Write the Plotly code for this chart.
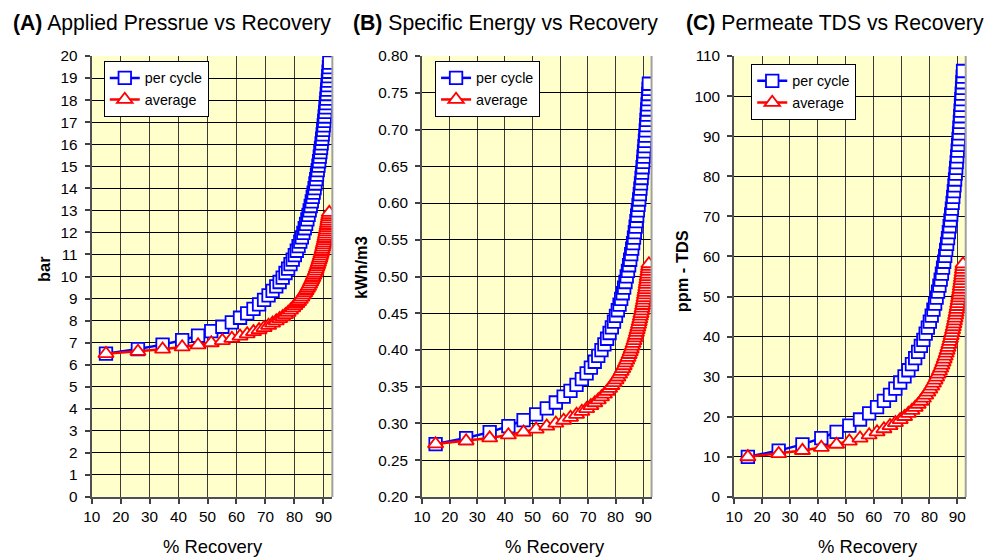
import plotly.graph_objects as go

FONT = "Arial, Liberation Sans, sans-serif"

recovery = [14.93, 25.97, 34.48, 41.24, 46.73, 51.28, 55.12, 58.39, 61.22, 63.69,
            65.87, 67.80, 69.52, 71.07, 72.46, 73.73, 74.89, 75.95, 76.92, 77.82,
            78.65, 79.42, 80.14, 80.81, 81.43, 82.02, 82.57, 83.09, 83.57, 84.03,
            84.47, 84.88, 85.27, 85.64, 86.00, 86.33, 86.65, 86.96, 87.25, 87.53,
            87.79, 88.05, 88.30, 88.53, 88.76, 88.97, 89.18, 89.39, 89.58, 89.77,
            89.95, 90.12, 90.29, 90.45, 90.61, 90.76, 90.91, 91.05, 91.19, 91.32,
            91.45, 91.58, 91.70, 91.82, 91.94, 92.05]

pressure_cycle = [6.50, 6.71, 6.91, 7.11, 7.32, 7.52, 7.72, 7.92, 8.13, 8.33,
                  8.53, 8.74, 8.94, 9.14, 9.35, 9.55, 9.75, 9.95, 10.16, 10.36,
                  10.56, 10.77, 10.97, 11.17, 11.38, 11.58, 11.78, 11.98, 12.19, 12.39,
                  12.59, 12.80, 13.00, 13.20, 13.41, 13.61, 13.81, 14.01, 14.22, 14.42,
                  14.62, 14.83, 15.03, 15.23, 15.44, 15.64, 15.84, 16.04, 16.25, 16.45,
                  16.65, 16.86, 17.06, 17.26, 17.47, 17.67, 17.87, 18.07, 18.28, 18.48,
                  18.68, 18.89, 19.09, 19.29, 19.50, 19.70]
pressure_avg = [6.50, 6.60, 6.70, 6.80, 6.89, 6.99, 7.09, 7.19, 7.29, 7.39,
                7.49, 7.58, 7.68, 7.78, 7.88, 7.98, 8.08, 8.17, 8.27, 8.37,
                8.47, 8.57, 8.67, 8.77, 8.86, 8.96, 9.06, 9.16, 9.26, 9.36,
                9.46, 9.55, 9.65, 9.75, 9.85, 9.95, 10.05, 10.14, 10.24, 10.34,
                10.44, 10.54, 10.64, 10.74, 10.83, 10.93, 11.03, 11.13, 11.23, 11.33,
                11.43, 11.52, 11.62, 11.72, 11.82, 11.92, 12.02, 12.11, 12.21, 12.31,
                12.41, 12.51, 12.61, 12.71, 12.80, 12.90]

energy_cycle = [0.2720, 0.2801, 0.2882, 0.2963, 0.3044, 0.3124, 0.3204, 0.3285, 0.3364, 0.3444,
                0.3524, 0.3603, 0.3682, 0.3761, 0.3840, 0.3919, 0.3997, 0.4075, 0.4153, 0.4231,
                0.4309, 0.4387, 0.4464, 0.4541, 0.4618, 0.4695, 0.4772, 0.4848, 0.4925, 0.5001,
                0.5077, 0.5153, 0.5228, 0.5304, 0.5379, 0.5454, 0.5529, 0.5604, 0.5678, 0.5753,
                0.5827, 0.5901, 0.5975, 0.6048, 0.6122, 0.6195, 0.6268, 0.6341, 0.6414, 0.6487,
                0.6559, 0.6631, 0.6703, 0.6775, 0.6847, 0.6918, 0.6990, 0.7061, 0.7132, 0.7203,
                0.7273, 0.7344, 0.7414, 0.7484, 0.7554, 0.7624]
energy_avg = [0.2720, 0.2761, 0.2801, 0.2842, 0.2882, 0.2922, 0.2962, 0.3002, 0.3042, 0.3082,
              0.3122, 0.3162, 0.3201, 0.3241, 0.3280, 0.3320, 0.3359, 0.3398, 0.3437, 0.3476,
              0.3515, 0.3554, 0.3592, 0.3631, 0.3669, 0.3708, 0.3746, 0.3784, 0.3823, 0.3861,
              0.3899, 0.3937, 0.3974, 0.4012, 0.4050, 0.4087, 0.4125, 0.4162, 0.4199, 0.4237,
              0.4274, 0.4311, 0.4348, 0.4384, 0.4421, 0.4458, 0.4494, 0.4531, 0.4567, 0.4604,
              0.4640, 0.4676, 0.4712, 0.4748, 0.4784, 0.4819, 0.4855, 0.4891, 0.4926, 0.4962,
              0.4997, 0.5032, 0.5067, 0.5102, 0.5137, 0.5172]

tds_cycle = [10.00, 11.56, 13.12, 14.67, 16.22, 17.77, 19.32, 20.87, 22.41, 23.95,
             25.49, 27.02, 28.55, 30.08, 31.61, 33.14, 34.66, 36.18, 37.70, 39.21,
             40.73, 42.24, 43.74, 45.25, 46.75, 48.25, 49.75, 51.25, 52.74, 54.23,
             55.72, 57.21, 58.69, 60.17, 61.65, 63.13, 64.60, 66.07, 67.54, 69.01,
             70.47, 71.93, 73.39, 74.85, 76.30, 77.76, 79.21, 80.65, 82.10, 83.54,
             84.98, 86.42, 87.85, 89.28, 90.71, 92.14, 93.57, 94.99, 96.41, 97.83,
             99.24, 100.66, 102.07, 103.47, 104.88, 106.28]
tds_avg = [10.00, 10.78, 11.56, 12.34, 13.11, 13.89, 14.66, 15.44, 16.21, 16.98,
           17.75, 18.51, 19.28, 20.04, 20.81, 21.57, 22.33, 23.09, 23.85, 24.61,
           25.37, 26.12, 26.87, 27.63, 28.38, 29.13, 29.88, 30.63, 31.37, 32.12,
           32.86, 33.61, 34.35, 35.09, 35.83, 36.57, 37.30, 38.04, 38.77, 39.51,
           40.24, 40.97, 41.70, 42.43, 43.15, 43.88, 44.61, 45.33, 46.05, 46.77,
           47.49, 48.21, 48.93, 49.64, 50.36, 51.07, 51.79, 52.50, 53.21, 53.92,
           54.62, 55.33, 56.04, 56.74, 57.44, 58.14]

x_ticks = [10, 20, 30, 40, 50, 60, 70, 80, 90]
series_names = ["per cycle", "average"]
titles = ["<b>(A)</b> Applied Pressrue vs Recovery",
          "<b>(B)</b> Specific Energy vs Recovery",
          "<b>(C)</b> Permeate TDS vs Recovery"]
y_titles = ["bar", "kWh/m3", "ppm - TDS"]
x_title = "% Recovery"

W, H = 988, 560
# the captured page includes the 8px body margin and is fitted back to 988x560,
# so target screen positions are mapped into figure pixels here.
MARGIN = 8
SX = W / (W + 2 * MARGIN)
SY = H / (H + 2 * MARGIN)
FS = (SX + SY) / 2


def fx(px):
    return (px / SX - MARGIN) / W


def fy(py):
    return (H - (py / SY - MARGIN)) / H


def fs(size):
    return round(size / FS, 1)


# target screen layout of the three plot areas: (left, right, top, bottom)
boxes = [(90, 329, 55, 497), (418, 646, 55, 497), (728, 958, 55, 497)]
x_ranges = [[10, 93.1], [10, 93.0], [10, 93.0]]
y_ranges = [[0, 20], [0.2, 0.8], [0, 110]]
y_dticks = [1, 0.05, 10]
y_formats = ["d", ".2f", "d"]
title_x = [10, 348, 678]
ytitle_pos = [(42, 268), (357, 267), (676, 271)]
xtitle_x = [210, 550, 861]
legend_pos = [(102, 60), (431, 60), (745, 63)]

panels = [(pressure_cycle, pressure_avg), (energy_cycle, energy_avg), (tds_cycle, tds_avg)]

fig = go.Figure()
annotations = []
shapes = []
layout = {}
for i, (cyc, avg) in enumerate(panels):
    k = "" if i == 0 else str(i + 1)
    lg = "legend" if i == 0 else "legend" + str(i + 1)
    fig.add_trace(go.Scatter(
        x=recovery, y=cyc, name=series_names[0], mode="lines+markers",
        xaxis="x" + k, yaxis="y" + k, legend=lg, legendgroup=f"c{i}",
        line=dict(color="#0000FF", width=2.5),
        marker=dict(symbol="square", size=12.5, color="white",
                    line=dict(color="#0000FF", width=1.8))))
    fig.add_trace(go.Scatter(
        x=recovery, y=avg, name=series_names[1], mode="lines+markers",
        xaxis="x" + k, yaxis="y" + k, legend=lg, legendgroup=f"a{i}",
        line=dict(color="#FF0000", width=2.5),
        marker=dict(symbol="triangle-up", size=13.5, color="white",
                    line=dict(color="#FF0000", width=1.8))))
    l, r, t, b = boxes[i]
    layout["xaxis" + k] = dict(
        domain=[fx(l), fx(r)], range=x_ranges[i], anchor="y" + k,
        tickmode="array", tickvals=x_ticks, ticks="outside", ticklen=5,
        tickcolor="#404040", tickwidth=1.5,
        showline=True, linecolor="#505050", linewidth=2,
        showgrid=True, gridcolor="#3a3a3a", gridwidth=1.2,
        tickfont=dict(family=FONT, size=fs(15), color="black"),
        zeroline=False, fixedrange=True)
    layout["yaxis" + k] = dict(
        domain=[fy(b), fy(t)], range=y_ranges[i], anchor="x" + k,
        dtick=y_dticks[i], tick0=y_ranges[i][0], tickformat=y_formats[i],
        ticks="outside", ticklen=5, tickcolor="#404040", tickwidth=1.5,
        showline=True, linecolor="#505050", linewidth=2,
        showgrid=True, gridcolor="#000000", gridwidth=1,
        tickfont=dict(family=FONT, size=fs(15), color="black"),
        ticklabelstandoff=4, zeroline=False, fixedrange=True)
    lx, ly = legend_pos[i]
    layout[lg] = dict(
        x=fx(lx), y=fy(ly), xanchor="left", yanchor="top",
        bgcolor="white", bordercolor="black", borderwidth=1,
        font=dict(family=FONT, size=fs(14), color="black"),
        itemwidth=30, tracegroupgap=0)
    shapes.append(dict(type="line", xref=f"x{k} domain", yref=f"y{k} domain",
                       x0=1, x1=1, y0=0, y1=1,
                       line=dict(color="#A0A0A0", width=2)))
    annotations.append(dict(
        text=titles[i], x=fx(title_x[i]), y=fy(22), xref="paper", yref="paper",
        xanchor="left", yanchor="middle", showarrow=False,
        font=dict(family=FONT, size=fs(20.7), color="black")))
    yx, yy = ytitle_pos[i]
    annotations.append(dict(
        text="<b>" + y_titles[i] + "</b>", x=fx(yx), y=fy(yy),
        xref="paper", yref="paper", xanchor="center", yanchor="middle",
        textangle=-90, showarrow=False,
        font=dict(family=FONT, size=fs(16), color="black")))
    annotations.append(dict(
        text=x_title, x=fx(xtitle_x[i]), y=fy(547), xref="paper", yref="paper",
        xanchor="center", yanchor="middle", showarrow=False,
        font=dict(family=FONT, size=fs(18), color="black")))

fig.update_layout(
    width=W, height=H, margin=dict(l=0, r=0, t=0, b=0),
    paper_bgcolor="white", plot_bgcolor="#FFFFCC",
    showlegend=True, annotations=annotations, shapes=shapes,
    **layout)

fig.write_html("out.html")
